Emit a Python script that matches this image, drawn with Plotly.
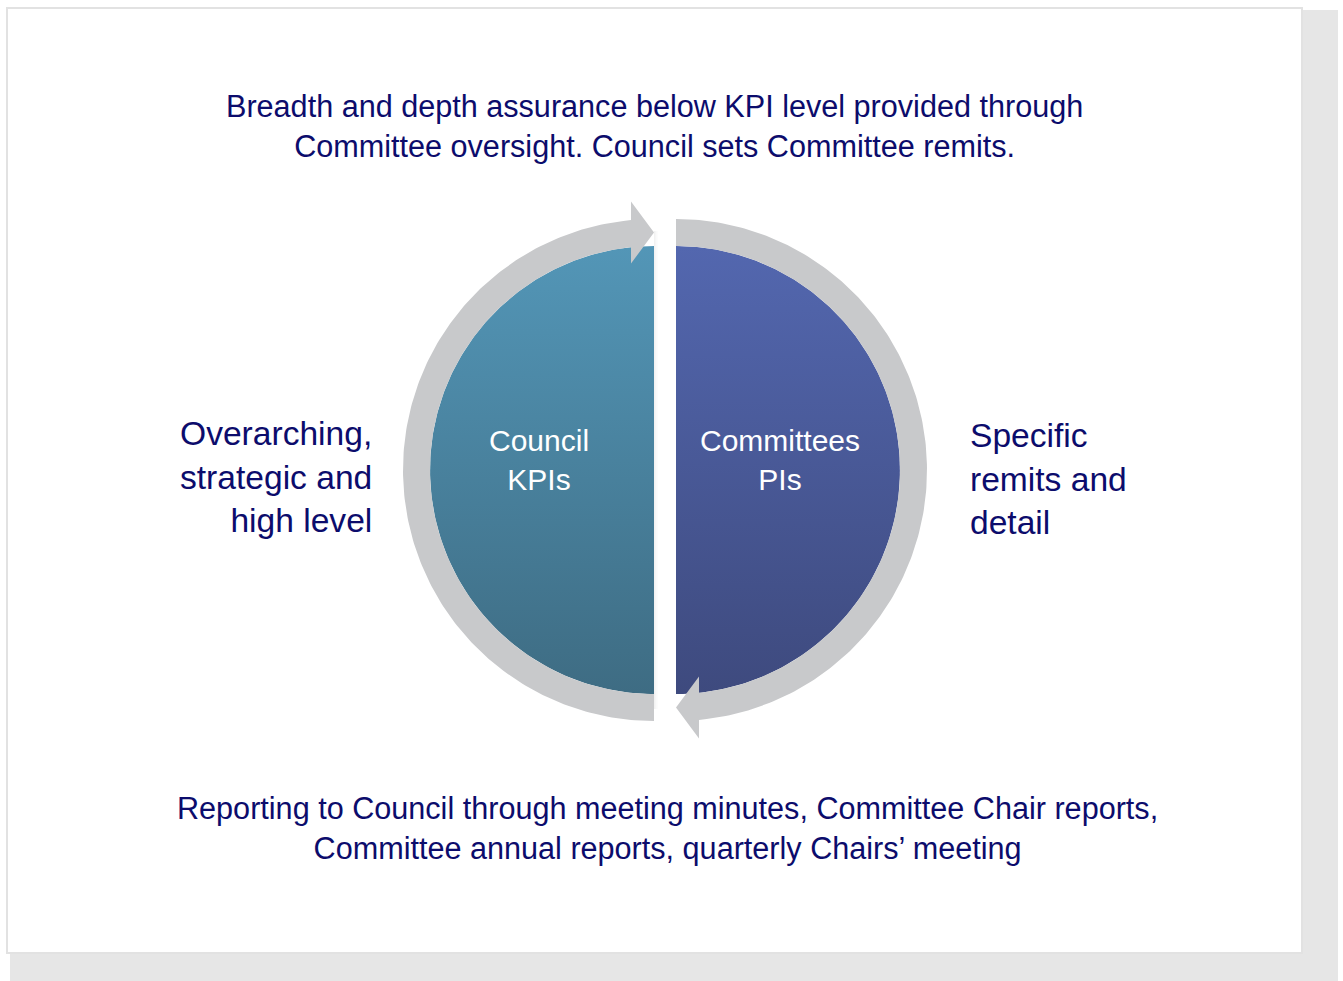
import numpy as np
import plotly.graph_objects as go

# ---- content ----
title_lines = ["Breadth and depth assurance below KPI level provided through",
               "Committee oversight. Council sets Committee remits."]
bottom_lines = ["Reporting to Council through meeting minutes, Committee Chair reports,",
                "Committee annual reports, quarterly Chairs\u2019 meeting"]
left_lines = ["Overarching,", "strategic and", "high level"]
right_lines = ["Specific", "remits and", "detail"]
left_inner = ["Council", "KPIs"]
right_inner = ["Committees", "PIs"]

# ---- style ----
TEXT_COLOR = "#0c0c6c"
RING_COLOR = "#c8c9cb"
LEFT_GRAD = ["#5396b7", "#3e6c83"]
RIGHT_GRAD = ["#5367af", "#3e4a7e"]
FONT = "Liberation Sans, Arial, sans-serif"

W, H = 1343, 981
CX_L, CX_R, CY = 654, 676, 470
R_IN, R_OUT = 224, 251
HEAD_BACK = 23      # distance of arrow head base from the flat edge
HEAD_HALF = 31      # half height of arrow head


def half_disc(cx, side):
    th = np.linspace(np.pi / 2, 3 * np.pi / 2, 200) if side < 0 else np.linspace(np.pi / 2, -np.pi / 2, 200)
    x = cx + R_IN * np.cos(th)
    y = CY - R_IN * np.sin(th)
    return np.r_[x, cx], np.r_[y, CY - R_IN]


def ring_arrow(cx, side):
    rm = (R_IN + R_OUT) / 2
    if side < 0:
        bx = cx - HEAD_BACK
        to = np.linspace(3 * np.pi / 2, np.arccos((bx - cx) / R_OUT), 200)
        ti = np.linspace(np.arccos((bx - cx) / R_IN), 3 * np.pi / 2, 200)
        xo = cx + R_OUT * np.cos(to); yo = CY - R_OUT * np.sin(to)
        xi = cx + R_IN * np.cos(ti); yi = CY - R_IN * np.sin(ti)
        ym = CY - rm
        hx = [bx, bx, cx, bx, bx]
        hy = [yo[-1], ym - HEAD_HALF, ym, ym + HEAD_HALF, yi[0]]
    else:
        bx = cx + HEAD_BACK
        to = np.linspace(np.pi / 2, -np.arccos((bx - cx) / R_OUT), 200)
        ti = np.linspace(-np.arccos((bx - cx) / R_IN), np.pi / 2, 200)
        xo = cx + R_OUT * np.cos(to); yo = CY - R_OUT * np.sin(to)
        xi = cx + R_IN * np.cos(ti); yi = CY - R_IN * np.sin(ti)
        ym = CY + rm
        hx = [bx, bx, cx, bx, bx]
        hy = [yo[-1], ym + HEAD_HALF, ym, ym - HEAD_HALF, yi[0]]
    x = np.r_[xo, hx, xi, xo[0]]
    y = np.r_[yo, hy, yi, yo[0]]
    return x, y


fig = go.Figure()

for cx, side, grad in [(CX_L, -1, LEFT_GRAD), (CX_R, 1, RIGHT_GRAD)]:
    x, y = half_disc(cx, side)
    fig.add_trace(go.Scatter(
        x=x, y=y, mode="lines", line=dict(width=0, color=grad[0]), fill="toself",
        fillgradient=dict(type="vertical", start=CY - R_IN, stop=CY + R_IN,
                          colorscale=[[0, grad[0]], [1, grad[1]]]),
        hoverinfo="skip", showlegend=False))

for cx, side in [(CX_L, -1), (CX_R, 1)]:
    x, y = ring_arrow(cx, side)
    fig.add_trace(go.Scatter(
        x=x, y=y, mode="lines", line=dict(width=0, color=RING_COLOR), fill="toself",
        fillcolor=RING_COLOR, hoverinfo="skip", showlegend=False))

shapes = [
    dict(type="rect", x0=10, y0=10, x1=1338, y1=981, fillcolor="#e6e6e6", line=dict(width=0), layer="below"),
    dict(type="rect", x0=7, y0=8, x1=1302, y1=953, fillcolor="white", line=dict(color="#e2e2e2", width=2), layer="below"),
]
# soft shadow along the flat edges
for k, op in enumerate([0.05, 0.035, 0.02, 0.01]):
    shapes.append(dict(type="rect", x0=CX_L + k, y0=CY - R_OUT + 12, x1=CX_L + k + 1, y1=CY + R_OUT - 12,
                       fillcolor=f"rgba(0,0,0,{op})", line=dict(width=0), layer="below"))

anns = []
def add_text(lines, x, y, size, color, xanchor, align):
    anns.append(dict(x=x, y=y, xref="x", yref="y", text="<br>".join(lines), showarrow=False,
                     xanchor=xanchor, yanchor="middle", align=align,
                     font=dict(family=FONT, size=size, color=color)))

add_text(title_lines, 654, 126, 30.6, TEXT_COLOR, "center", "center")
add_text(bottom_lines, 667, 828, 30.6, TEXT_COLOR, "center", "center")
add_text(left_lines, 374, 477, 33.6, TEXT_COLOR, "right", "right")
add_text(right_lines, 968, 479, 33.6, TEXT_COLOR, "left", "left")
add_text(left_inner, 539, 460, 30, "white", "center", "center")
add_text(right_inner, 780, 460, 30, "white", "center", "center")

fig.update_layout(
    width=W, height=H, margin=dict(l=0, r=0, t=0, b=0),
    paper_bgcolor="white", plot_bgcolor="rgba(0,0,0,0)",
    xaxis=dict(range=[0, W], visible=False, fixedrange=True),
    yaxis=dict(range=[H, 0], visible=False, fixedrange=True),
    shapes=shapes, annotations=anns, showlegend=False, hovermode=False,
)

fig.write_html("out.html", config={"displayModeBar": False})
